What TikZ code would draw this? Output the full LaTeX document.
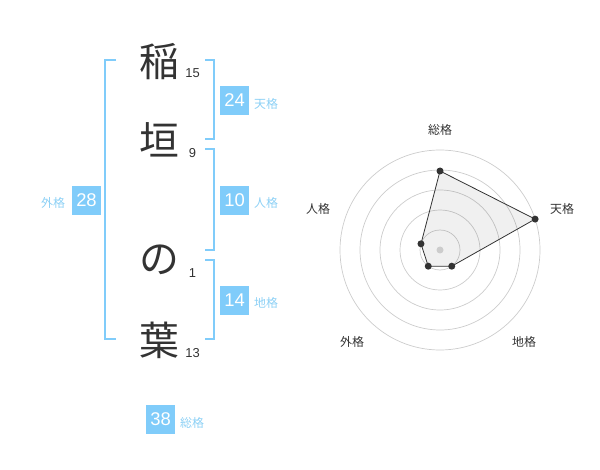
\documentclass[tikz,border=0pt]{standalone}
\usepackage{fontspec}
\usetikzlibrary{calc}
\setmainfont{Liberation Sans}
\newfontfamily\cjk{Noto Sans CJK JP}
\definecolor{fblue}{RGB}{128,204,250}
\definecolor{lblue}{RGB}{140,208,245}
\definecolor{ink}{RGB}{51,51,51}
\definecolor{gridc}{RGB}{204,204,204}
\begin{document}
\begin{tikzpicture}[x=1bp,y=-1bp,
  bigchar/.style={font=\cjk\fontsize{40}{40}\selectfont, text=ink, inner sep=0},
  strokes/.style={font=\fontsize{13}{13}\selectfont, text=ink, inner sep=0},
  valbox/.style={fill=fblue, text=white, minimum size=29bp, inner sep=0, font=\fontsize{18.5}{18.5}\selectfont},
  vlabel/.style={text=lblue, font=\cjk\fontsize{12}{12}\selectfont, inner sep=0},
  bracketline/.style={draw=fblue, line width=1.5bp},
  gridline/.style={draw=gridc, line width=0.7bp},
  axislabel/.style={text=ink, font=\cjk\fontsize{12}{12}\selectfont, inner sep=0},
  dot/.style={circle, fill=ink, inner sep=0, minimum size=7bp}
]
\useasboundingbox (0,0) rectangle (600,470);
% name characters
\node[bigchar] (c1) at (159,62) {稲};
\node[bigchar] (c2) at (159,140) {垣};
\node[bigchar] (c3) at (159,260) {の};
\node[bigchar] (c4) at (159,340) {葉};
\node[strokes] (s1) at (192.5,73) {15};
\node[strokes] (s2) at (192.5,153) {9};
\node[strokes] (s3) at (192.5,273) {1};
\node[strokes] (s4) at (192.5,353) {13};
% brackets
\draw[bracketline] (116,60) -- (105,60) -- (105,339) -- (116,339);
\draw[bracketline] (205,60) -- (214,60) -- (214,139) -- (205,139);
\draw[bracketline] (205,149) -- (214,149) -- (214,250) -- (205,250);
\draw[bracketline] (205,260) -- (214,260) -- (214,339) -- (205,339);
% value boxes
\node[valbox] (ten) at (234.5,100.5) {24};
\node[vlabel] (tenl) at (266,104) {天格};
\node[valbox] (jin) at (234.5,200.5) {10};
\node[vlabel] (jinl) at (266,203) {人格};
\node[valbox] (chi) at (234.5,300.5) {14};
\node[vlabel] (chil) at (266,303) {地格};
\node[valbox] (gai) at (86.5,200.5) {28};
\node[vlabel] (gail) at (53,203) {外格};
\node[valbox] (sou) at (160.5,419.5) {38};
\node[vlabel] (soul) at (192,423) {総格};
% radar chart
\coordinate (ctr) at (440,250);
\foreach \r in {20,40,60,80,100} \draw[gridline] (ctr) circle[radius=\r];
\coordinate (pS) at ($(ctr)+(-90:79)$);
\coordinate (pT) at ($(ctr)+(-18:100)$);
\coordinate (pC) at ($(ctr)+(54:20)$);
\coordinate (pG) at ($(ctr)+(126:20)$);
\coordinate (pJ) at ($(ctr)+(-162:20)$);
\fill[black, fill opacity=0.06] (pS) -- (pT) -- (pC) -- (pG) -- (pJ) -- cycle;
\fill[gridc] (ctr) circle[radius=3.5];
\draw[draw=ink, line width=0.8bp] (pS) -- (pT) -- (pC) -- (pG) -- (pJ) -- cycle;
\foreach \p in {pS,pT,pC,pG,pJ} \node[dot] at (\p) {};
\node[axislabel] (aS) at (440,130) {総格};
\node[axislabel] (aT) at (562,209) {天格};
\node[axislabel] (aJ) at (318,209) {人格};
\node[axislabel] (aG) at (352,342) {外格};
\node[axislabel] (aC) at (524,342) {地格};
\end{tikzpicture}
\end{document}
